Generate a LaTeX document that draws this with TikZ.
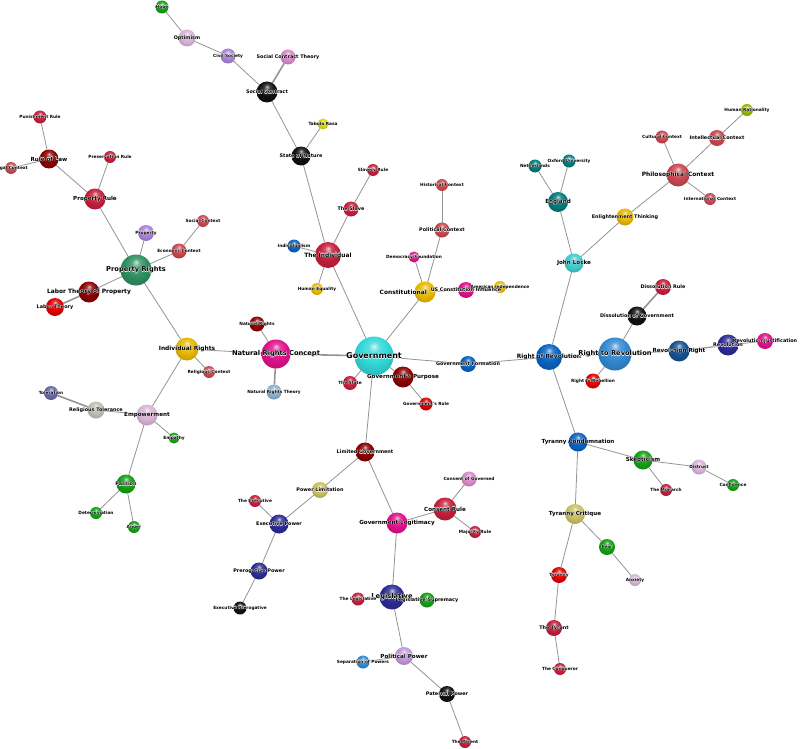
\documentclass[tikz,border=0pt]{standalone}
\usepackage{fontspec}
\newfontfamily\lblfont{DejaVu Sans}
\usetikzlibrary{backgrounds}
\definecolor{crim}{HTML}{C41E3A}
\definecolor{indr}{HTML}{C8474F}
\definecolor{dred}{HTML}{8A0000}
\definecolor{redd}{HTML}{E00000}
\definecolor{mag}{HTML}{E0108A}
\definecolor{gold}{HTML}{E8B800}
\definecolor{yel}{HTML}{D8D800}
\definecolor{cyanb}{HTML}{30D8D8}
\definecolor{turq}{HTML}{40CCCC}
\definecolor{teal}{HTML}{007A7A}
\definecolor{blu}{HTML}{0862C0}
\definecolor{stb}{HTML}{3388D0}
\definecolor{dblu}{HTML}{18508E}
\definecolor{navyb}{HTML}{2B2B95}
\definecolor{grn}{HTML}{12A012}
\definecolor{lil}{HTML}{D8B4D8}
\definecolor{lav}{HTML}{A882D8}
\definecolor{orc}{HTML}{D888C8}
\definecolor{sea}{HTML}{2E9060}
\definecolor{lbl}{HTML}{88B0D0}
\definecolor{slv}{HTML}{C0C0B0}
\definecolor{slt}{HTML}{6868A8}
\definecolor{kha}{HTML}{C8C060}
\definecolor{ygr}{HTML}{90B800}
\definecolor{plm}{HTML}{C098DC}
\definecolor{blk}{HTML}{101010}
\colorlet{sphcol}{red}
\pgfdeclareradialshading[sphcol]{glossball}{\pgfqpoint{0bp}{13bp}}{%
  color(0bp)=(sphcol!25!white);
  color(7bp)=(sphcol!80!white);
  color(18bp)=(sphcol);
  color(30bp)=(sphcol!85!black);
  color(38bp)=(sphcol!68!black);
  color(50bp)=(sphcol!60!black)}
\newcommand\halotext[1]{\leavevmode\rlap{\color{white}\hspace*{0.3pt}#1}\rlap{\color{white}\hspace*{-0.3pt}#1}\rlap{\color{white}\raisebox{0.3pt}{#1}}\rlap{\color{white}\raisebox{-0.3pt}{#1}}#1}
\newcommand\mkball[5]{\node[sph=#5, minimum size=#4] (#1) at (#2,#3) {};}
\newcommand\nlab[3]{\node[#1] at (#2) {\halotext{#3}};}
\tikzset{
  sph/.style={circle, inner sep=0pt, outer sep=0pt, draw=none,
    /utils/exec={\colorlet{sphcol}{#1}}, shade, shading=glossball},
  edge/.style={draw=black!42, line width=0.8pt},
  thk/.style={line width=1.6pt},
  lbs/.style={inner sep=0pt, font=\lblfont\bfseries\fontsize{4.3}{5}\selectfont},
  lbm/.style={inner sep=0pt, font=\lblfont\bfseries\fontsize{4.9}{5.7}\selectfont},
  lbl/.style={inner sep=0pt, font=\lblfont\bfseries\fontsize{5.6}{6.4}\selectfont},
  lblx/.style={inner sep=0pt, font=\lblfont\bfseries\fontsize{5.9}{7}\selectfont},
  lbxl/.style={inner sep=0pt, font=\lblfont\bfseries\fontsize{6.7}{8}\selectfont},
  lbg/.style={inner sep=0pt, font=\lblfont\bfseries\fontsize{8}{9}\selectfont},
}
\begin{document}
\begin{tikzpicture}[x=1pt,y=-1pt]
\useasboundingbox (0,0) rectangle (800,749);
% spheres
\mkball{hope}{162}{7}{13}{grn}
\mkball{optim}{187}{38}{17}{lil}
\mkball{civil}{228}{56}{15}{lav}
\mkball{sct}{288}{57}{15}{orc}
\mkball{sc}{267}{92}{21}{blk}
\mkball{tabula}{323}{124}{11}{yel}
\mkball{son}{301}{156}{19}{blk}
\mkball{slrule}{373}{170}{12}{crim}
\mkball{slave}{351}{209}{15}{crim}
\mkball{indiv}{328}{255}{26}{crim}
\mkball{indism}{294}{246}{13}{blu}
\mkball{hequal}{317}{289}{12}{gold}
\mkball{histc}{442}{185}{12}{indr}
\mkball{polc}{442}{230}{15}{indr}
\mkball{demf}{414}{257}{11}{mag}
\mkball{const}{425}{292}{21}{gold}
\mkball{usci}{466}{290}{16}{mag}
\mkball{amind}{500}{287}{12}{gold}
\mkball{gov}{374}{356}{39}{cyanb}
\mkball{gpurp}{403}{377}{21}{dred}
\mkball{grole}{426}{404}{13}{redd}
\mkball{state}{350}{383}{14}{crim}
\mkball{gform}{468}{364}{16}{blu}
\mkball{nrc}{276}{354}{29}{mag}
\mkball{nr}{257}{324}{15}{dred}
\mkball{nrt}{274}{392}{15}{lbl}
\mkball{irights}{187}{349}{23}{gold}
\mkball{relc}{209}{372}{12}{indr}
\mkball{prights}{136}{270}{31}{sea}
\mkball{prop}{146}{233}{16}{lav}
\mkball{socc}{203}{221}{12}{indr}
\mkball{econc}{179}{251}{15}{indr}
\mkball{prule}{95}{199}{21}{crim}
\mkball{presr}{110}{157}{12}{crim}
\mkball{rol}{49}{159}{19}{dred}
\mkball{punr}{40}{117}{13}{crim}
\mkball{legc}{11}{168}{12}{indr}
\mkball{ltop}{89}{292}{21}{dred}
\mkball{lt}{55}{307}{18}{redd}
\mkball{empow}{147}{415}{21}{lil}
\mkball{empath}{174}{438}{11}{grn}
\mkball{reltol}{96}{410}{17}{slv}
\mkball{toler}{51}{393}{14}{slt}
\mkball{passion}{126}{484}{19}{grn}
\mkball{determ}{96}{513}{12}{grn}
\mkball{anger}{134}{527}{12}{grn}
\mkball{limgov}{365}{452}{19}{dred}
\mkball{powlim}{320}{490}{16}{kha}
\mkball{theexec}{255}{501}{12}{crim}
\mkball{execp}{279}{524}{19}{navyb}
\mkball{prerp}{259}{571}{17}{navyb}
\mkball{execpr}{240}{608}{13}{blk}
\mkball{govleg}{397}{523}{21}{mag}
\mkball{consr}{445}{509}{23}{crim}
\mkball{consg}{469}{479}{15}{orc}
\mkball{majr}{475}{532}{12}{crim}
\mkball{legis}{392}{597}{25}{navyb}
\mkball{theleg}{358}{599}{13}{crim}
\mkball{legsup}{427}{600}{15}{grn}
\mkball{polp}{404}{656}{18}{plm}
\mkball{sepp}{363}{662}{13}{stb}
\mkball{patp}{447}{694}{16}{blk}
\mkball{parent}{465}{742}{12}{crim}
\mkball{locke}{574}{263}{19}{turq}
\mkball{england}{558}{202}{20}{teal}
\mkball{neth}{535}{166}{13}{teal}
\mkball{oxford}{569}{161}{13}{teal}
\mkball{enlight}{625}{217}{17}{gold}
\mkball{philc}{678}{175}{23}{indr}
\mkball{cultc}{662}{137}{13}{indr}
\mkball{intc}{717}{138}{16}{indr}
\mkball{hrat}{747}{110}{12}{ygr}
\mkball{intlc}{710}{199}{12}{indr}
\mkball{ror}{549}{357}{26}{blu}
\mkball{rtr}{615}{354}{33}{stb}
\mkball{dissg}{637}{316}{19}{blk}
\mkball{dissr}{663}{287}{16}{crim}
\mkball{revr}{679}{351}{21}{dblu}
\mkball{rev}{728}{345}{21}{navyb}
\mkball{revj}{765}{341}{16}{mag}
\mkball{rreb}{593}{381}{15}{redd}
\mkball{tyrc}{578}{442}{19}{blu}
\mkball{skep}{643}{460}{19}{grn}
\mkball{monarch}{666}{490}{12}{crim}
\mkball{distr}{699}{467}{15}{lil}
\mkball{conf}{733}{485}{12}{grn}
\mkball{tcrit}{575}{514}{20}{kha}
\mkball{fear}{607}{547}{16}{grn}
\mkball{anx}{635}{580}{12}{lil}
\mkball{tyr}{559}{575}{16}{redd}
\mkball{tyrant}{554}{628}{16}{crim}
\mkball{conq}{560}{669}{12}{crim}
% connectors
\begin{scope}[on background layer]
\fill[white] (0,0) rectangle (800,749);
\draw[edge] (hope) -- (optim);
\draw[edge] (optim) -- (civil);
\draw[edge] (civil) -- (sc);
\draw[edge,thk] (sct) -- (sc);
\draw[edge] (sc) -- (son);
\draw[edge] (son) -- (tabula);
\draw[edge] (son) -- (indiv);
\draw[edge] (indiv) -- (slave);
\draw[edge] (slave) -- (slrule);
\draw[edge] (indiv) -- (indism);
\draw[edge] (indiv) -- (hequal);
\draw[edge] (indiv) -- (gov);
\draw[edge] (gov) -- (const);
\draw[edge] (const) -- (demf);
\draw[edge] (const) -- (polc);
\draw[edge] (polc) -- (histc);
\draw[edge] (const) -- (usci);
\draw[edge] (usci) -- (amind);
\draw[edge] (gov) -- (gpurp);
\draw[edge] (gpurp) -- (grole);
\draw[edge] (gov) -- (state);
\draw[edge] (gov) -- (gform);
\draw[edge] (gform) -- (ror);
\draw[edge,thk] (gov) -- (nrc);
\draw[edge] (nrc) -- (nr);
\draw[edge,thk] (nrc) -- (nrt);
\draw[edge] (nrc) -- (irights);
\draw[edge] (irights) -- (relc);
\draw[edge] (irights) -- (prights);
\draw[edge] (irights) -- (empow);
\draw[edge] (prights) -- (prop);
\draw[edge] (prights) -- (econc);
\draw[edge] (econc) -- (socc);
\draw[edge] (prights) -- (prule);
\draw[edge] (prule) -- (presr);
\draw[edge] (prule) -- (rol);
\draw[edge] (rol) -- (punr);
\draw[edge] (rol) -- (legc);
\draw[edge] (prights) -- (ltop);
\draw[edge,thk] (ltop) -- (lt);
\draw[edge] (empow) -- (reltol);
\draw[edge,thk] (reltol) -- (toler);
\draw[edge] (empow) -- (empath);
\draw[edge] (empow) -- (passion);
\draw[edge] (passion) -- (determ);
\draw[edge] (passion) -- (anger);
\draw[edge] (gov) -- (limgov);
\draw[edge] (limgov) -- (powlim);
\draw[edge] (powlim) -- (execp);
\draw[edge] (execp) -- (theexec);
\draw[edge] (execp) -- (prerp);
\draw[edge] (prerp) -- (execpr);
\draw[edge] (limgov) -- (govleg);
\draw[edge] (govleg) -- (consr);
\draw[edge] (consr) -- (consg);
\draw[edge] (consr) -- (majr);
\draw[edge] (govleg) -- (legis);
\draw[edge] (legis) -- (theleg);
\draw[edge] (legis) -- (legsup);
\draw[edge] (legis) -- (polp);
\draw[edge] (polp) -- (sepp);
\draw[edge] (polp) -- (patp);
\draw[edge] (patp) -- (parent);
\draw[edge] (ror) -- (locke);
\draw[edge] (locke) -- (england);
\draw[edge] (england) -- (neth);
\draw[edge] (england) -- (oxford);
\draw[edge] (locke) -- (enlight);
\draw[edge] (enlight) -- (philc);
\draw[edge] (philc) -- (cultc);
\draw[edge] (philc) -- (intc);
\draw[edge] (intc) -- (hrat);
\draw[edge] (philc) -- (intlc);
\draw[edge] (ror) -- (rtr);
\draw[edge] (rtr) -- (dissg);
\draw[edge,thk] (dissg) -- (dissr);
\draw[edge] (rtr) -- (revr);
\draw[edge,line width=1.2pt] (revr) -- (rev);
\draw[edge] (rev) -- (revj);
\draw[edge] (rtr) -- (rreb);
\draw[edge] (ror) -- (tyrc);
\draw[edge] (tyrc) -- (skep);
\draw[edge] (skep) -- (monarch);
\draw[edge] (skep) -- (distr);
\draw[edge] (distr) -- (conf);
\draw[edge] (tyrc) -- (tcrit);
\draw[edge] (tcrit) -- (fear);
\draw[edge] (fear) -- (anx);
\draw[edge] (tcrit) -- (tyr);
\draw[edge] (tyr) -- (tyrant);
\draw[edge] (tyrant) -- (conq);
\end{scope}
% labels
\nlab{lbs}{hope}{Hope}
\nlab{lbm}{optim}{Optimism}
\nlab{lbs}{civil}{Civil Society}
\nlab{lbm}{sct}{Social Contract Theory}
\nlab{lbm}{sc}{Social Contract}
\nlab{lbs}{tabula}{Tabula Rasa}
\nlab{lbm}{son}{State of Nature}
\nlab{lbs}{slrule}{Slavery Rule}
\nlab{lbm}{slave}{The Slave}
\nlab{lbs}{indism}{Individualism}
\nlab{lblx}{indiv}{The Individual}
\nlab{lbs}{hequal}{Human Equality}
\nlab{lbs}{histc}{Historical Context}
\nlab{lbm}{polc}{Political Context}
\nlab{lbs}{demf}{Democracy Foundation}
\node[lblx, anchor=east] at (427,292) {\halotext{Constitutional}};
\nlab{lbm}{usci}{US Constitution Influence}
\nlab{lbs}{amind}{American Independence}
\nlab{lbg}{gov}{Government}
\nlab{lbl}{gpurp}{Government's Purpose}
\nlab{lbs}{grole}{Government's Role}
\nlab{lbs}{state}{The State}
\nlab{lbm}{gform}{Government Formation}
\nlab{lbxl}{nrc}{Natural Rights Concept}
\nlab{lbs}{nr}{Natural Rights}
\nlab{lbs}{nrt}{Natural Rights Theory}
\nlab{lblx}{irights}{Individual Rights}
\nlab{lbs}{relc}{Religious Context}
\nlab{lbxl}{prights}{Property Rights}
\nlab{lbs}{prop}{Property}
\nlab{lbs}{socc}{Social Context}
\nlab{lbs}{econc}{Economic Context}
\nlab{lbl}{prule}{Property Rule}
\nlab{lbs}{presr}{Preservation Rule}
\nlab{lbl}{rol}{Rule of Law}
\nlab{lbs}{punr}{Punishment Rule}
\nlab{lbs}{legc}{Legal Context}
\nlab{lblx}{ltop}{Labor Theory of Property}
\nlab{lbm}{lt}{Labor Theory}
\nlab{lbl}{empow}{Empowerment}
\nlab{lbs}{empath}{Empathy}
\nlab{lbm}{reltol}{Religious Tolerance}
\nlab{lbs}{toler}{Toleration}
\nlab{lbm}{passion}{Passion}
\nlab{lbs}{determ}{Determination}
\nlab{lbs}{anger}{Anger}
\nlab{lbm}{limgov}{Limited Government}
\nlab{lbm}{powlim}{Power Limitation}
\nlab{lbs}{theexec}{The Executive}
\nlab{lbm}{execp}{Executive Power}
\nlab{lbm}{prerp}{Prerogative Power}
\nlab{lbs}{execpr}{Executive Prerogative}
\nlab{lbl}{govleg}{Government Legitimacy}
\nlab{lbl}{consr}{Consent Rule}
\nlab{lbs}{consg}{Consent of Governed}
\nlab{lbs}{majr}{Majority Rule}
\nlab{lbxl}{legis}{Legislative}
\nlab{lbs}{theleg}{The Legislative}
\nlab{lbm}{legsup}{Legislative Supremacy}
\nlab{lbl}{polp}{Political Power}
\nlab{lbs}{sepp}{Separation of Powers}
\nlab{lbm}{patp}{Paternal Power}
\nlab{lbs}{parent}{The Parent}
\nlab{lbl}{locke}{John Locke}
\nlab{lbl}{england}{England}
\nlab{lbs}{neth}{Netherlands}
\nlab{lbs}{oxford}{Oxford University}
\nlab{lbm}{enlight}{Enlightenment Thinking}
\nlab{lblx}{philc}{Philosophical Context}
\nlab{lbs}{cultc}{Cultural Context}
\nlab{lbm}{intc}{Intellectual Context}
\nlab{lbs}{hrat}{Human Rationality}
\nlab{lbs}{intlc}{International Context}
\nlab{lblx}{ror}{Right of Revolution}
\nlab{lbxl}{rtr}{Right to Revolution}
\nlab{lbm}{dissg}{Dissolution of Government}
\nlab{lbm}{dissr}{Dissolution Rule}
\nlab{lbl}{revr}{Revolution Right}
\nlab{lbm}{rev}{Revolution}
\nlab{lbm}{revj}{Revolution Justification}
\nlab{lbs}{rreb}{Right to Rebellion}
\nlab{lbl}{tyrc}{Tyranny Condemnation}
\nlab{lbl}{skep}{Skepticism}
\nlab{lbs}{monarch}{The Monarch}
\nlab{lbs}{distr}{Distrust}
\nlab{lbs}{conf}{Confidence}
\nlab{lbl}{tcrit}{Tyranny Critique}
\nlab{lbs}{fear}{Fear}
\nlab{lbs}{anx}{Anxiety}
\nlab{lbs}{tyr}{Tyranny}
\nlab{lbm}{tyrant}{The Tyrant}
\nlab{lbs}{conq}{The Conqueror}
\end{tikzpicture}
\end{document}
